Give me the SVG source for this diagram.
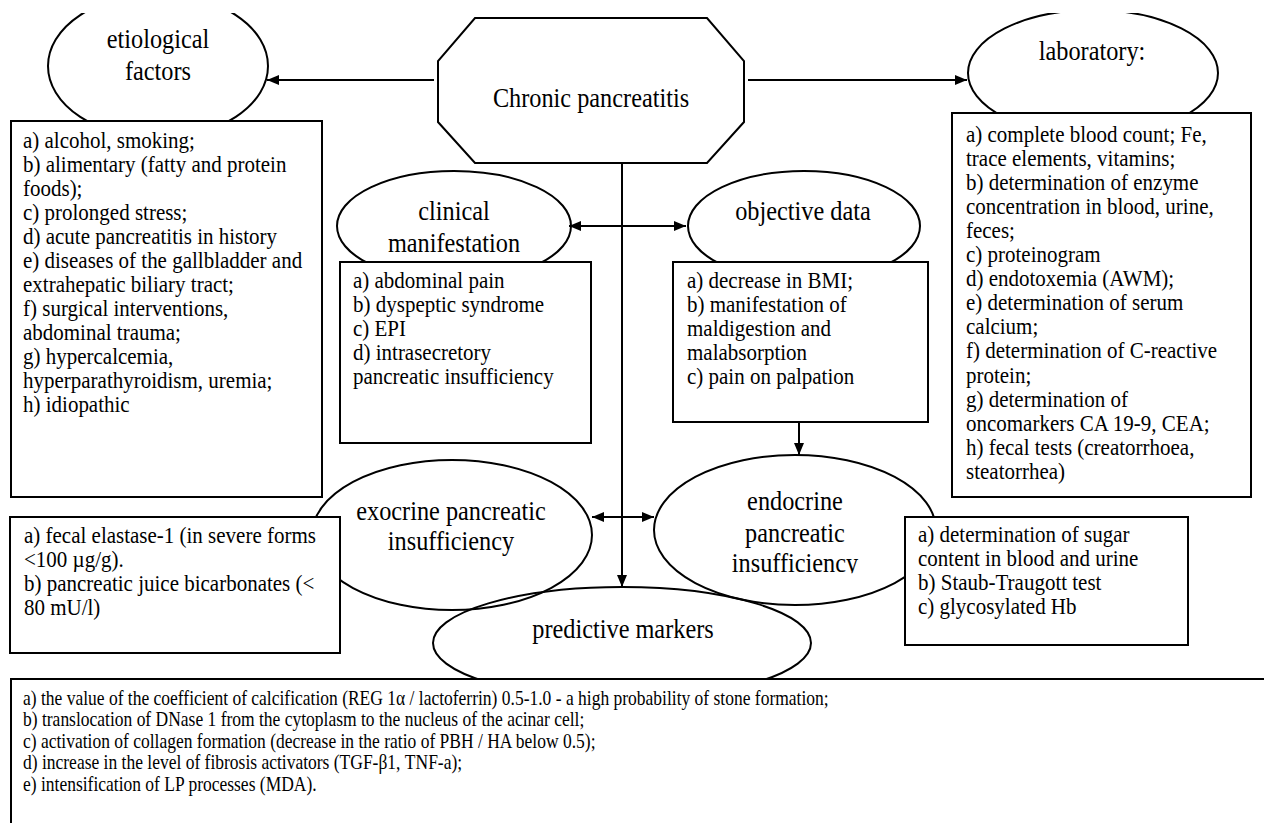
<svg xmlns="http://www.w3.org/2000/svg" width="1264" height="823" viewBox="0 0 1264 823">
  <style>
    .shape { fill: none; stroke: #000; stroke-width: 2; }
    .box { fill: #fff; stroke: #000; stroke-width: 2; }
    .link { fill: none; stroke: #000; stroke-width: 2; }
    .label { font-family: "Liberation Serif", "Times New Roman", serif; font-size: 24.3px; fill: #000; text-anchor: middle; }
    .body { font-family: "Liberation Serif", "Times New Roman", serif; font-size: 21px; fill: #000; }
    .small { font-family: "Liberation Serif", "Times New Roman", serif; font-size: 17.5px; fill: #000; }
  </style>
  <defs>
    <marker id="arrow" viewBox="0 0 12 10" refX="12" refY="5" markerWidth="12" markerHeight="10" markerUnits="userSpaceOnUse" orient="auto-start-reverse">
      <path d="M0,0 L12,5 L0,10 z" fill="#000"/>
    </marker>
    <clipPath id="page-top">
      <rect x="0" y="13" width="1264" height="810"/>
    </clipPath>
    <clipPath id="endo-last-line">
      <rect x="-160" y="-40" width="320" height="41"/>
    </clipPath>
  </defs>
  <rect width="1264" height="823" fill="#fff"/>

  <!-- connectors -->
  <g id="connectors">
    <line class="link" x1="434" y1="80" x2="267" y2="80" marker-end="url(#arrow)"/>
    <line class="link" x1="748" y1="80" x2="967" y2="80" marker-end="url(#arrow)"/>
    <line class="link" x1="622" y1="163" x2="622" y2="587" marker-end="url(#arrow)"/>
    <line class="link" x1="569" y1="226" x2="686" y2="226" marker-start="url(#arrow)" marker-end="url(#arrow)"/>
    <line class="link" x1="592" y1="517" x2="654" y2="517" marker-start="url(#arrow)" marker-end="url(#arrow)"/>
    <line class="link" x1="799" y1="422" x2="799" y2="455" marker-end="url(#arrow)"/>
  </g>

  <!-- central node -->
  <g id="chronic-pancreatitis">
    <polygon class="box" points="475,18 707,18 744,61 744,122 707,163 475,163 438,122 438,61"/>
    <text class="label" transform="translate(591,107) scale(1,1.15)">Chronic pancreatitis</text>
  </g>

  <!-- etiological factors -->
  <g id="etiological-factors">
    <ellipse class="shape" cx="158" cy="66" rx="110" ry="72" clip-path="url(#page-top)"/>
    <text class="label" transform="translate(158,48) scale(1,1.15)">etiological</text>
    <text class="label" transform="translate(158,80) scale(1,1.15)">factors</text>
    <rect class="box" x="11" y="121" width="311" height="376"/>
    <text class="body" transform="translate(23,148) scale(1,1.12)">
      <tspan x="0" y="0">a) alcohol, smoking;</tspan>
      <tspan x="0" dy="21.43">b) alimentary (fatty and protein</tspan>
      <tspan x="0" dy="21.43">foods);</tspan>
      <tspan x="0" dy="21.43">c) prolonged stress;</tspan>
      <tspan x="0" dy="21.43">d) acute pancreatitis in history</tspan>
      <tspan x="0" dy="21.43">e) diseases of the gallbladder and</tspan>
      <tspan x="0" dy="21.43">extrahepatic biliary tract;</tspan>
      <tspan x="0" dy="21.43">f) surgical interventions,</tspan>
      <tspan x="0" dy="21.43">abdominal trauma;</tspan>
      <tspan x="0" dy="21.43">g) hypercalcemia,</tspan>
      <tspan x="0" dy="21.43">hyperparathyroidism, uremia;</tspan>
      <tspan x="0" dy="21.43">h) idiopathic</tspan>
    </text>
  </g>

  <!-- laboratory -->
  <g id="laboratory">
    <ellipse class="shape" cx="1093" cy="73" rx="125" ry="63" clip-path="url(#page-top)"/>
    <text class="label" transform="translate(1092,60) scale(1,1.15)">laboratory:</text>
    <rect class="box" x="952" y="113" width="299" height="384"/>
    <text class="body" transform="translate(966,141.5) scale(1,1.12)">
      <tspan x="0" y="0">a) complete blood count; Fe,</tspan>
      <tspan x="0" dy="21.52">trace elements, vitamins;</tspan>
      <tspan x="0" dy="21.52">b) determination of enzyme</tspan>
      <tspan x="0" dy="21.52">concentration in blood, urine,</tspan>
      <tspan x="0" dy="21.52">feces;</tspan>
      <tspan x="0" dy="21.52">c) proteinogram</tspan>
      <tspan x="0" dy="21.52">d) endotoxemia (AWM);</tspan>
      <tspan x="0" dy="21.52">e) determination of serum</tspan>
      <tspan x="0" dy="21.52">calcium;</tspan>
      <tspan x="0" dy="21.52">f) determination of C-reactive</tspan>
      <tspan x="0" dy="21.52">protein;</tspan>
      <tspan x="0" dy="21.52">g) determination of</tspan>
      <tspan x="0" dy="21.52">oncomarkers CA 19-9, CEA;</tspan>
      <tspan x="0" dy="21.52">h) fecal tests (creatorrhoea,</tspan>
      <tspan x="0" dy="21.52">steatorrhea)</tspan>
    </text>
  </g>

  <!-- clinical manifestation -->
  <g id="clinical-manifestation">
    <ellipse class="shape" cx="454" cy="226" rx="117" ry="55"/>
    <text class="label" transform="translate(454,220) scale(1,1.15)">clinical</text>
    <text class="label" transform="translate(454,252) scale(1,1.15)">manifestation</text>
    <rect class="box" x="340" y="262" width="251" height="181"/>
    <text class="body" transform="translate(353,288) scale(1,1.12)">
      <tspan x="0" y="0">a) abdominal pain</tspan>
      <tspan x="0" dy="21.43">b) dyspeptic syndrome</tspan>
      <tspan x="0" dy="21.43">c) EPI</tspan>
      <tspan x="0" dy="21.43">d) intrasecretory</tspan>
      <tspan x="0" dy="21.43">pancreatic insufficiency</tspan>
    </text>
  </g>

  <!-- objective data -->
  <g id="objective-data">
    <ellipse class="shape" cx="804" cy="226" rx="116" ry="55"/>
    <text class="label" transform="translate(803,220) scale(1,1.15)">objective data</text>
    <rect class="box" x="673" y="262" width="255" height="160"/>
    <text class="body" transform="translate(687,288) scale(1,1.12)">
      <tspan x="0" y="0">a) decrease in BMI;</tspan>
      <tspan x="0" dy="21.43">b) manifestation of</tspan>
      <tspan x="0" dy="21.43">maldigestion and</tspan>
      <tspan x="0" dy="21.43">malabsorption</tspan>
      <tspan x="0" dy="21.43">c) pain on palpation</tspan>
    </text>
  </g>

  <!-- exocrine pancreatic insufficiency -->
  <g id="exocrine-insufficiency">
    <ellipse class="shape" cx="452" cy="535" rx="140" ry="75"/>
    <text class="label" transform="translate(451,520) scale(1,1.15)">exocrine pancreatic</text>
    <text class="label" transform="translate(451,550) scale(1,1.15)">insufficiency</text>
    <rect class="box" x="10" y="517" width="330" height="136"/>
    <text class="body" transform="translate(24,543) scale(1,1.12)">
      <tspan x="0" y="0">a) fecal elastase-1 (in severe forms</tspan>
      <tspan x="0" dy="21.43">&lt;100 µg/g).</tspan>
      <tspan x="0" dy="21.43">b) pancreatic juice bicarbonates (&lt;</tspan>
      <tspan x="0" dy="21.43">80 mU/l)</tspan>
    </text>
  </g>

  <!-- endocrine pancreatic insufficiency -->
  <g id="endocrine-insufficiency">
    <ellipse class="shape" cx="795" cy="530" rx="141" ry="75"/>
    <text class="label" transform="translate(795,510) scale(1,1.15)">endocrine</text>
    <text class="label" transform="translate(795,542) scale(1,1.15)">pancreatic</text>
    <g transform="translate(795,572) scale(1,1.15)">
      <text class="label" clip-path="url(#endo-last-line)">insufficiency</text>
    </g>
    <rect class="box" x="905" y="517" width="283" height="128"/>
    <text class="body" transform="translate(918,542) scale(1,1.12)">
      <tspan x="0" y="0">a) determination of sugar</tspan>
      <tspan x="0" dy="21.43">content in blood and urine</tspan>
      <tspan x="0" dy="21.43">b) Staub-Traugott test</tspan>
      <tspan x="0" dy="21.43">c) glycosylated Hb</tspan>
    </text>
  </g>

  <!-- predictive markers -->
  <g id="predictive-markers">
    <ellipse class="shape" cx="622" cy="643" rx="189" ry="56"/>
    <text class="label" transform="translate(623,638) scale(1,1.15)">predictive markers</text>
    <rect class="box" x="11" y="679" width="1270" height="160"/>
    <text class="small" transform="translate(23,705) scale(1,1.18)">
      <tspan x="0" y="0">a) the value of the coefficient of calcification (REG 1α / lactoferrin) 0.5-1.0 - a high probability of stone formation;</tspan>
      <tspan x="0" dy="18.2">b) translocation of DNase 1 from the cytoplasm to the nucleus of the acinar cell;</tspan>
      <tspan x="0" dy="18.2">c) activation of collagen formation (decrease in the ratio of PBH / HA below 0.5);</tspan>
      <tspan x="0" dy="18.2">d) increase in the level of fibrosis activators (TGF-β1, TNF-a);</tspan>
      <tspan x="0" dy="18.2">e) intensification of LP processes (MDA).</tspan>
    </text>
  </g>
</svg>
